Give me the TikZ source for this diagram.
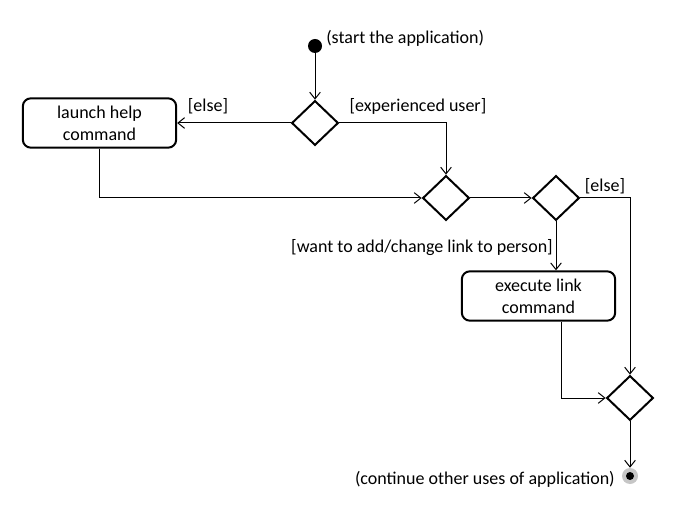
\documentclass[tikz,border=0pt]{standalone}
\usepackage{fontspec}
\setmainfont{Carlito}
\usetikzlibrary{arrows.meta,shapes.geometric,calc}

\begin{document}
\begin{tikzpicture}[x=0.75pt, y=-0.75pt, >={Straight Barb[length=5pt,width=8pt]},
    font=\fontsize{13.5}{16.5}\selectfont,
    flow/.style={->, line width=0.75pt},
    action/.style={draw, line width=1.5pt, rounded corners=6pt, minimum width=115pt,
        minimum height=37pt, align=center, inner sep=2pt},
    decision/.style={draw, diamond, line width=1.5pt, minimum width=35pt,
        minimum height=33.5pt, inner sep=0pt},
    guard/.style={inner sep=0pt}]

    \useasboundingbox (0,0) rectangle (673,505);

    % -------------------------------------------------------
    % 1. Start and end points
    % -------------------------------------------------------
    \node (start) [circle, fill=black, minimum size=10.5pt, inner sep=0pt] at (315,46) {};
    \node (stop) [circle, fill=gray!45, minimum size=12pt, inner sep=0pt] at (630,476) {};
    \fill (stop.center) circle (3pt);

    % -------------------------------------------------------
    % 2. Actions and decisions
    % -------------------------------------------------------
    \node (help) [action] at (99.5,123) {launch help\\command};
    \node (exec) [action] at (538.5,296) {execute link\\command};

    \node (d1) [decision] at (315,123) {};
    \node (d2) [decision] at (446,198) {};
    \node (d3) [decision] at (556,198) {};
    \node (d4) [decision] at (630,398) {};

    % -------------------------------------------------------
    % 3. Control flow
    % -------------------------------------------------------
    \draw[flow] (start) -- (d1.north);
    \draw[flow] (d1.west) -- (help.east);
    \draw[flow] (d1.east) -| (d2.north);
    \draw[flow] (help.south) |- (d2.west);
    \draw[flow] (d2.east) -- (d3.west);
    \draw[flow] (d3.east) -| (d4.north);
    \draw[flow] (d3.south) -- (d3.south |- exec.north);
    \draw[flow] ([xshift=17pt]exec.south) |- (d4.west);
    \draw[flow] (d4.south) -- (stop);

    % -------------------------------------------------------
    % 4. Notes and guards
    % -------------------------------------------------------
    \node[guard, anchor=west] at (326,38) {(start the application)};
    \node[guard] at (208,106) {[else]};
    \node[guard] at (418,106) {[experienced user]};
    \node[guard] at (605,186) {[else]};
    \node[guard] at (422,248) {[want to add/change link to person]};
    \node[guard, anchor=east] at (615,479) {(continue other uses of application)};
\end{tikzpicture}
\end{document}
